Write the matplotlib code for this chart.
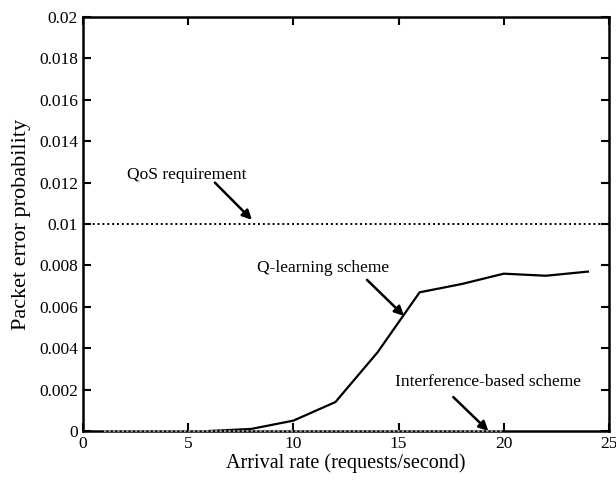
import matplotlib
matplotlib.use("Agg")
import matplotlib.pyplot as plt

plt.rcParams['font.family'] = ['Liberation Serif', 'DejaVu Serif']

x_q = [6, 8, 10, 12, 14, 16, 18, 20, 22, 24]
y_q = [0, 0.0001, 0.0005, 0.0014, 0.0038, 0.0067, 0.0071, 0.0076, 0.0075, 0.0077]
x_i = [1, 4, 8, 12, 16, 20]
y_i = [0, 0, 0, 0, 0, 0]
qos_x = [0, 25]
qos_y = [0.01, 0.01]

xticks = [0, 5, 10, 15, 20, 25]
yticks = [0, 0.002, 0.004, 0.006, 0.008, 0.01, 0.012, 0.014, 0.016, 0.018, 0.02]
yticklabels = ['0', '0.002', '0.004', '0.006', '0.008', '0.01', '0.012', '0.014', '0.016', '0.018', '0.02']

fig = plt.figure(figsize=(6.16, 4.8), dpi=100)
ax = fig.add_axes([0.1347, 0.1021, 0.8539, 0.8625])

ax.plot(qos_x, qos_y, color='black', linestyle=(0, (1, 1.5)), linewidth=1.4)
ax.plot(x_q, y_q, color='black', linewidth=1.6, zorder=3)
ax.plot(x_i, y_i, color='#999999', linestyle=(0, (1, 1)), linewidth=1.6, zorder=4, clip_on=False)

ax.set_xlim(0, 25)
ax.set_ylim(0, 0.02)
ax.set_xticks(xticks)
ax.set_xticklabels([str(t) for t in xticks])
ax.set_yticks(yticks)
ax.set_yticklabels(yticklabels)
ax.tick_params(direction='in', top=True, right=True, length=6, width=1.5, labelsize=12.5)
for s in ax.spines.values():
    s.set_linewidth(1.8)

ax.set_xlabel('Arrival rate (requests/second)', fontsize=14.5, labelpad=1)
ax.set_ylabel('Packet error probability', fontsize=16, labelpad=6)

arrow = dict(arrowstyle='-|>', color='black', lw=1.8, mutation_scale=14, shrinkA=0, shrinkB=0)
ax.text(4.94, 0.01237, 'QoS requirement', ha='center', va='center', fontsize=12.5)
ax.annotate('', xy=(8.03, 0.0102), xytext=(6.27, 0.0120), arrowprops=arrow)
ax.text(11.4, 0.00787, 'Q-learning scheme', ha='center', va='center', fontsize=12.5)
ax.annotate('', xy=(15.26, 0.00556), xytext=(13.5, 0.0073), arrowprops=arrow)
ax.text(19.27, 0.00237, 'Interference-based scheme', ha='center', va='center', fontsize=12.5)
ax.annotate('', xy=(19.27, 0.0), xytext=(17.6, 0.00164), arrowprops=arrow, annotation_clip=False)

fig.savefig('out.png', dpi=100)
